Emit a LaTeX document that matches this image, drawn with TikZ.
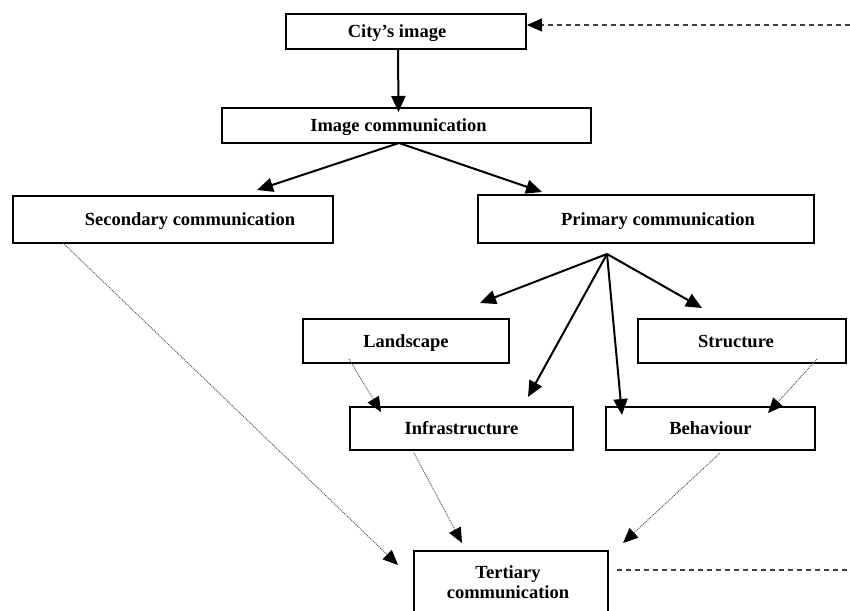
\documentclass[tikz,border=0pt]{standalone}
\usepackage{fontspec}
\setmainfont{Liberation Serif}
\usetikzlibrary{arrows.meta}
\begin{document}
\begin{tikzpicture}[x=1pt,y=-1pt,
  box/.style={draw, line width=2pt, inner sep=0pt, font=\fontsize{18.5}{20}\selectfont\bfseries, align=center},
  onebox/.style={box, text height=12.5pt, text depth=0pt},
  arr/.style={line width=2pt, -{Triangle[length=16pt,width=14pt]}},
  dotarr/.style={line width=1pt, black!65, dash pattern=on 1pt off 1pt, -{Triangle[length=15pt,width=13pt,color=black,fill=black]}},
  dashln/.style={line width=1.1pt, black!75, dash pattern=on 5pt off 4pt}]
\useasboundingbox (0,0) rectangle (850,610);
\clip (0,0) rectangle (850,610);
% boxes
\node[onebox, minimum width=240, minimum height=35] (city) at (406,31.5) {\hspace*{-18pt}City's image};
\node[onebox, minimum width=369, minimum height=35] (img) at (406.5,125.5) {\hspace*{-16pt}Image communication};
\node[onebox, minimum width=320, minimum height=47] (sec) at (173,219.5) {\hspace*{34pt}Secondary communication};
\node[onebox, minimum width=336, minimum height=48] (prim) at (646,219) {\hspace*{24pt}Primary communication};
\node[onebox, minimum width=206, minimum height=44] (land) at (406,341) {Landscape};
\node[onebox, minimum width=208, minimum height=44] (struct) at (742,341) {\hspace*{-12pt}Structure};
\node[onebox, minimum width=223, minimum height=43] (infra) at (461.5,428.5) {Infrastructure};
\node[onebox, minimum width=209, minimum height=43] (behav) at (710.5,428.5) {Behaviour};
\node[box, minimum width=194, minimum height=62] (tert) at (511,582) {\hspace*{-6pt}Tertiary\\\hspace*{-6pt}communication};
% named points
\coordinate (fan) at (607,254);
\coordinate (imgsrc) at (399,143);
\coordinate (rightA) at (850,25);
\coordinate (rightB) at (850,570);
% solid arrows
\draw[arr] ([xshift=-8]city.south) -- ([xshift=-8,yshift=-5]img.north);
\draw[arr] (imgsrc) -- (257,190) coordinate (tsec);
\draw[arr] (imgsrc) -- (542,192) coordinate (tprim);
\draw[arr] (fan) -- (480,303) coordinate (tland);
\draw[arr] (fan) -- (528,397) coordinate (tinfra);
\draw[arr] (fan) -- (622,415) coordinate (tbehav);
\draw[arr] (fan) -- (702,308) coordinate (tstruct);
% dotted arrows
\draw[dotarr] (349,359) coordinate (sland) -- (381,412) coordinate (tinfra2);
\draw[dotarr] (817,359) coordinate (sstruct) -- (768,413) coordinate (tbehav2);
\draw[dotarr] (63,243) coordinate (ssec) -- (398,565) coordinate (ttert1);
\draw[dotarr] (414,453) coordinate (sinfra) -- (462,543) coordinate (ttert2);
\draw[dotarr] (720,453) coordinate (sbehav) -- (623,543) coordinate (ttert3);
% dashed lines
\draw[dashln, -{Triangle[length=15pt,width=13pt,color=black,fill=black]}] (rightA) -- (527,25) coordinate (tcity);
\draw[dashln] (617,570) coordinate (stert) -- (rightB);
\end{tikzpicture}
\end{document}
